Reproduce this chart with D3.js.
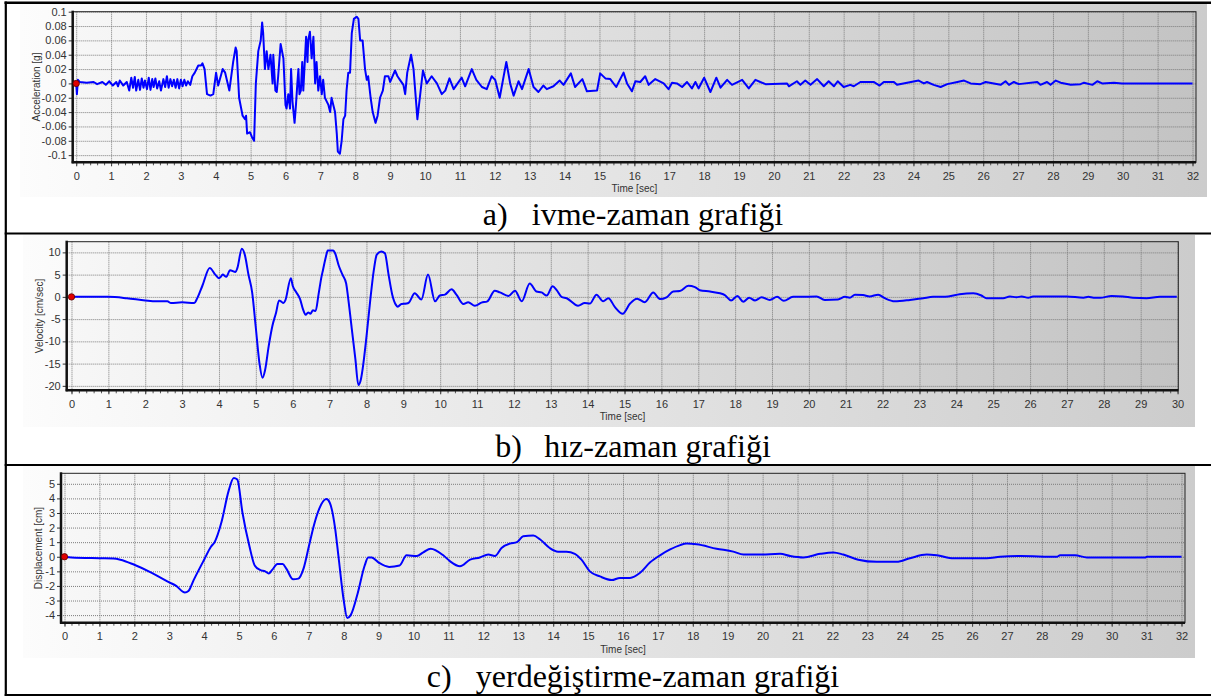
<!DOCTYPE html>
<html><head><meta charset="utf-8">
<script src="https://cdn.jsdelivr.net/npm/d3@7/dist/d3.min.js"></script>
<style>body{margin:0;background:#fff;} svg{display:block;}</style>
</head><body>
<svg id="c" width="1211" height="696"></svg>
<script>
// ---------------- DATA ----------------
const accTime = [0,0.02,0.05,0.1,0.3,0.5,0.6,0.75,0.85,0.95,1.05,1.15,1.2,1.25,1.35,1.45,1.52,1.58,1.63,1.68,1.72,1.78,1.83,1.88,1.93,1.97,2.03,2.08,2.13,2.18,2.22,2.27,2.32,2.38,2.43,2.5,2.55,2.6,2.65,2.7,2.75,2.8,2.85,2.9,2.95,3.0,3.05,3.1,3.15,3.2,3.27,3.33,3.4,3.5,3.58,3.62,3.68,3.75,3.85,3.93,
 4.01,4.07,4.2,4.27,4.39,4.5,4.57,4.6,4.67,4.77,4.84,4.87,4.9,4.98,5.04,5.1,5.15,5.22,5.29,5.33,5.36,5.41,5.46,5.51,5.57,5.63,5.65,5.71,5.75,5.79,5.86,5.94,6.0,6.03,6.08,6.13,6.16,6.2,6.26,6.3,6.34,6.37,6.4,6.44,6.48,6.51,6.59,6.63,6.65,6.7,6.75,6.8,6.85,6.89,6.94,6.99,7.04,7.08,7.13,7.18,7.23,7.28,7.32,7.37,7.42,7.47,7.5,7.56,7.61,7.66,7.71,7.75,7.8,7.85,7.9,7.96,8.04,8.09,8.14,8.21,8.28,8.33,8.37,8.44,8.5,8.58,8.64,8.71,8.79,8.85,8.95,9.0,9.14,9.21,9.28,9.38,9.43,9.49,9.6,9.67,9.75,9.78,
 9.94,10.05,10.19,10.34,10.48,10.58,10.7,10.82,11.05,11.15,11.34,11.47,11.63,11.77,11.91,12.01,12.14,12.33,12.44,12.54,12.68,12.78,12.97,13.11,13.25,13.39,13.49,13.68,13.86,13.97,14.18,14.3,14.51,14.64,14.93,15.02,15.17,15.31,15.48,15.69,15.79,15.93,16.03,16.17,16.31,16.41,16.6,16.84,16.98,17.08,17.22,17.37,17.51,17.65,17.75,17.84,18.0,18.18,18.35,18.47,18.66,18.8,19.09,19.28,19.47,19.61,19.76,20.38,20.43,20.66,20.76,20.9,21.05,21.24,
 21.43,21.57,21.72,21.83,22.0,22.19,22.29,22.48,22.86,23.03,23.15,23.44,23.53,23.82,24.15,24.3,24.39,24.58,24.78,24.97,25.26,25.45,25.64,25.92,26.07,26.5,26.64,26.74,26.88,27.02,27.55,27.64,27.83,27.93,28.08,28.22,28.51,28.79,28.89,29.13,29.27,29.41,29.75,29.98,32.0];
const accValue = [0,-0.015,0.005,0.002,0.001,0.002,-0.001,0.002,-0.002,0.003,-0.003,0.002,-0.004,0.004,-0.003,0.002,-0.01,0.008,-0.006,0.009,-0.01,0.005,-0.009,0.007,-0.006,0.004,-0.008,0.008,-0.009,0.006,-0.005,0.007,-0.007,0.003,-0.01,0.006,-0.005,0.01,-0.006,0.006,-0.004,0.005,-0.006,0.006,-0.007,0.005,-0.004,0.005,-0.003,0.003,-0.002,0.01,0.015,0.025,0.025,0.028,0.02,-0.015,-0.017,-0.015,
 0.015,-0.003,0.02,0.015,-0.01,0.03,0.05,0.045,-0.02,-0.045,-0.05,-0.045,-0.07,-0.068,-0.075,-0.08,0.0,0.045,0.06,0.085,0.07,0.02,0.045,0.02,0.04,0.0,0.04,-0.01,-0.012,0.01,0.055,0.035,-0.03,-0.035,-0.015,-0.035,0.02,-0.025,-0.055,-0.03,0.0,0.02,-0.015,-0.01,0.03,-0.01,0.065,0.03,0.06,0.072,0.035,0.065,0.0,0.03,-0.01,0.01,-0.015,0.005,-0.02,-0.025,-0.03,-0.04,-0.02,-0.03,-0.04,-0.07,-0.095,-0.098,-0.08,-0.05,-0.045,-0.01,0.015,0.015,0.07,0.09,0.093,0.09,0.06,0.06,0.02,0.005,0.01,-0.02,-0.04,-0.055,-0.045,-0.02,-0.01,0.01,0.01,0.002,0.018,0.01,0.005,-0.002,-0.015,0.015,0.04,0.02,-0.03,-0.05,
 0.018,0.0,0.01,0.0,-0.015,-0.01,0.007,-0.008,0.008,-0.004,0.02,0.005,-0.005,-0.008,0.01,0.005,-0.02,0.03,0.0,-0.017,0.003,-0.008,0.02,-0.005,-0.012,-0.003,-0.008,-0.004,0.004,-0.002,0.014,-0.005,0.006,-0.011,-0.01,0.014,0.007,0.006,-0.005,0.015,0.0,-0.011,0.003,0.002,0.01,-0.002,0.006,0.0,-0.008,0.001,0.0,-0.005,0.002,-0.007,0.002,-0.007,0.008,-0.012,0.008,-0.006,0.005,-0.002,0.005,-0.007,0.005,0.002,-0.001,0.0,-0.004,0.003,-0.002,0.004,-0.002,0.006,
 -0.004,0.003,-0.004,0.003,-0.005,-0.002,-0.004,0.002,0.002,-0.003,0.002,0.002,-0.002,0.001,0.004,0.0,0.002,-0.002,-0.005,-0.001,0.002,0.004,0.0,-0.001,0.002,-0.002,0.003,-0.002,0.002,-0.001,0.002,-0.002,0.002,-0.002,0.004,0.001,-0.002,-0.001,0.001,-0.002,0.003,0.0,0.001,0.0,0.0];

const velTime = [0,0.5,1.0,1.5,2.0,2.3,2.6,2.7,3.0,3.33,3.4,3.55,3.75,3.9,4.0,4.05,4.1,4.2,4.3,4.45,4.5,4.62,4.7,4.8,4.9,5.0,5.1,5.18,5.25,5.35,5.45,5.55,5.63,5.68,5.75,5.8,5.95,6.0,6.1,6.2,6.28,6.35,6.42,6.48,6.55,6.62,6.7,6.78,6.82,6.9,6.95,7.1,7.15,7.25,7.35,7.45,7.5,7.6,7.7,7.78,7.85,7.9,8.0,8.1,8.2,8.28,8.4,8.5,8.6,8.7,8.8,8.85,8.95,9.09,9.15,9.31,9.49,9.67,9.86,9.99,10.13,10.31,10.44,10.63,10.76,10.94,11.12,11.28,11.48,11.62,11.85,12.03,12.21,12.43,12.61,12.75,12.89,13.05,13.16,13.29,13.43,13.74,13.92,14.06,14.24,14.42,14.56,14.74,14.95,15.15,15.34,15.55,15.78,15.96,16.14,16.32,16.5,16.73,16.91,17.04,17.32,17.59,17.72,17.89,18.06,18.22,18.38,18.54,18.72,18.94,19.14,19.32,19.57,19.76,20.21,20.43,20.79,20.98,21.11,21.25,21.47,21.65,21.88,22.06,22.33,22.74,23.1,23.37,23.78,24.09,24.46,24.68,24.82,25.27,25.45,25.63,25.77,25.95,26.08,26.49,26.99,27.45,27.58,27.72,27.9,28.21,28.52,28.79,29.16,29.52,29.98];
const velValue = [0,0,0,-0.3,-0.8,-1.0,-1.0,-1.4,-1.2,-1.4,-0.5,2.5,6.5,5.0,4.2,4.5,5.0,4.5,6.0,5.6,6.5,10.8,9.5,5.0,1.0,-7,-15,-18.2,-16.5,-11,-6.5,-3.5,-0.8,-1.0,-1.4,-0.8,4.2,2.5,1.0,-0.5,-2.8,-4.0,-3.5,-3.8,-3.0,-3.2,0.5,4.5,6.0,9.0,10.4,10.4,9.8,7.0,5.0,3.0,0.0,-7,-14,-19.8,-18.5,-16,-9,-1,6,9.5,10.2,9.8,5.0,0.5,-1.8,-2.2,-1.6,-1.5,-1.3,0.8,-0.6,5.0,-1.0,0.3,0.5,1.7,0.5,-1.6,-1.2,-2.0,-1.3,-1.0,1.4,1.0,0.2,1.4,-1.0,3.0,1.2,1.0,0.3,2.4,1.5,0.0,-0.3,-2.0,-1.4,-1.5,0.5,-1.0,-0.3,-2.3,-3.8,-1.5,-0.4,-1.2,1.0,-0.5,-0.1,1.2,1.3,2.5,2.2,1.5,1.2,0.8,0.4,-0.8,0.2,-1.1,-0.2,-0.8,-0.1,-0.7,0.0,-0.9,0.0,0.0,0.1,-0.7,-0.6,0.0,-0.2,0.5,0.4,0.1,0.5,-0.3,-1.0,-0.7,-0.3,0.0,0.1,0.6,0.8,0.3,-0.3,-0.3,0.1,-0.1,0.1,-0.2,0.1,0.1,0.1,-0.2,0.0,-0.2,-0.2,0.2,0.1,-0.2,-0.3,0.0,0.0];

const dispTime = [0,0.2,1.0,1.4,1.6,2.0,2.5,3.0,3.2,3.45,3.55,3.7,4.0,4.2,4.3,4.5,4.7,4.85,4.95,5.1,5.3,5.45,5.6,5.75,5.85,5.95,6.1,6.25,6.35,6.55,6.7,6.85,7.0,7.15,7.3,7.5,7.6,7.75,7.85,8.0,8.1,8.2,8.4,8.6,8.7,8.8,9.0,9.3,9.6,9.8,10.09,10.28,10.49,10.85,11.04,11.33,11.62,11.9,12.14,12.33,12.52,12.76,12.96,13.14,13.43,13.62,13.9,14.14,14.38,14.62,14.81,15.05,15.34,15.68,15.91,16.2,16.49,16.77,17.06,17.35,17.64,17.83,18.11,18.68,19.16,19.45,19.92,20.5,20.79,21.17,21.65,22.03,22.31,22.74,23.27,23.84,24.22,24.7,24.99,25.47,26.42,26.8,27.38,28.43,28.52,28.95,29.29,30.96,31.01,32.0];
const dispValue = [0,-0.05,-0.1,-0.12,-0.2,-0.55,-1.1,-1.75,-2.0,-2.45,-2.35,-1.6,-0.2,0.7,1.0,2.4,4.5,5.4,5.3,3.0,0.7,-0.6,-0.9,-1.0,-1.15,-0.9,-0.5,-0.5,-0.8,-1.55,-1.5,-0.8,0.7,2.2,3.3,3.95,3.7,2.0,0.0,-3.0,-4.2,-4.0,-2.5,-0.6,-0.05,-0.05,-0.4,-0.7,-0.6,0.1,0.05,0.3,0.55,0.1,-0.3,-0.65,-0.2,-0.05,0.15,0.05,0.6,0.9,1.0,1.4,1.45,1.2,0.6,0.35,0.35,0.2,-0.2,-1.0,-1.35,-1.6,-1.45,-1.45,-1.1,-0.4,0.1,0.5,0.8,0.9,0.85,0.55,0.35,0.15,0.15,0.2,0.05,-0.05,0.2,0.3,0.15,-0.2,-0.35,-0.35,-0.1,0.15,0.1,-0.1,-0.1,0.0,0.05,0.0,0.1,0.1,-0.05,-0.05,0.0,0.0];

const accTicks = [0.1,0.08,0.06,0.04,0.02,0,-0.02,-0.04,-0.06,-0.08,-0.1];
const accTickLabels = ["0.1","0.08","0.06","0.04","0.02","0","-0.02","-0.04","-0.06","-0.08","-0.1"];
const velTicks = [10,5,0,-5,-10,-15,-20];
const velTickLabels = ["10","5","0","-5","-10","-15","-20"];
const dispTicks = [5,4,3,2,1,0,-1,-2,-3,-4];
const dispTickLabels = ["5","4","3","2","1","0","-1","-2","-3","-4"];
const timeTicks32 = [0,1,2,3,4,5,6,7,8,9,10,11,12,13,14,15,16,17,18,19,20,21,22,23,24,25,26,27,28,29,30,31,32];
const timeTicks30 = [0,1,2,3,4,5,6,7,8,9,10,11,12,13,14,15,16,17,18,19,20,21,22,23,24,25,26,27,28,29,30];

const captionLabels = ["a)","b)","c)"];
const captionTexts = ["ivme-zaman grafiği","hız-zaman grafiği","yerdeğiştirme-zaman grafiği"];
const yTitles = ["Acceleration [g]","Velocity [cm/sec]","Displacement [cm]"];
const xTitle = "Time [sec]";

// ---------------- LAYOUT ----------------
const panels = [
  {time:accTime, val:accValue, yTicks:accTicks, yLabels:accTickLabels, xTicks:timeTicks32,
   xDom:[-0.1,32.1], yDom:[-0.11,0.1], l:72.7, r:1196, t:11.7, b:162.3,
   bg:[20,4,1207,197], yTitleX:36, curve:d3.curveLinear, capY:225, rowTop:2.8, rowBot:233.5},
  {time:velTime, val:velValue, yTicks:velTicks, yLabels:velTickLabels, xTicks:timeTicks30,
   xDom:[-0.13,30.02], yDom:[-21,12.4], l:66.7, r:1178.3, t:241.7, b:390.3,
   bg:[23,235,1195,427], yTitleX:39, curve:d3.curveMonotoneX, capY:457, rowTop:233.5, rowBot:465},
  {time:dispTime, val:dispValue, yTicks:dispTicks, yLabels:dispTickLabels, xTicks:timeTicks32,
   xDom:[-0.1,32.1], yDom:[-4.52,5.72], l:61, r:1185, t:473.3, b:622.7,
   bg:[23,466,1195,658], yTitleX:38, curve:d3.curveMonotoneX, capY:687, rowTop:465, rowBot:695}
];

const svg = d3.select('#c');
const defs = svg.append('defs');
function grad(id,c1,c2){
  const g = defs.append('linearGradient').attr('id',id).attr('x1','0').attr('x2','1').attr('y1','0').attr('y2','0');
  g.append('stop').attr('offset','0').attr('stop-color',c1);
  g.append('stop').attr('offset','1').attr('stop-color',c2);
}
grad('bgOuter','#fcfcfc','#cccccc');
grad('bgPlot','#f7f7f7','#c3c3c3');

const sansFont = "'Liberation Sans', Arial, sans-serif";
const serifFont = "'Liberation Serif', 'Times New Roman', serif";

panels.forEach((p,i)=>{
  const x = d3.scaleLinear().domain(p.xDom).range([p.l,p.r]);
  const y = d3.scaleLinear().domain(p.yDom).range([p.b,p.t]);
  const g = svg.append('g');
  g.append('rect').attr('x',p.bg[0]).attr('y',p.bg[1]).attr('width',p.bg[2]-p.bg[0]).attr('height',p.bg[3]-p.bg[1]).attr('fill','url(#bgOuter)');
  g.append('rect').attr('x',p.l).attr('y',p.t).attr('width',p.r-p.l).attr('height',p.b-p.t).attr('fill','url(#bgPlot)');
  // grid
  g.append('g').selectAll('line').data(p.xTicks).join('line')
    .attr('x1',d=>x(d)+0.5).attr('x2',d=>x(d)+0.5).attr('y1',p.t).attr('y2',p.b)
    .attr('stroke','#7c7c7c').attr('stroke-dasharray','1,1').attr('stroke-width',1);
  g.append('g').selectAll('line').data(p.yTicks).join('line')
    .attr('y1',d=>y(d)+0.5).attr('y2',d=>y(d)+0.5).attr('x1',p.l).attr('x2',p.r)
    .attr('stroke','#7c7c7c').attr('stroke-dasharray','1,1').attr('stroke-width',1);
  // series
  const cid = 'clip'+i;
  defs.append('clipPath').attr('id',cid).append('rect').attr('x',p.l).attr('y',p.t-1).attr('width',p.r-p.l).attr('height',p.b-p.t+2);
  const pts = p.time.map((t,k)=>[t,p.val[k]]);
  g.append('path').datum(pts).attr('clip-path',`url(#${cid})`)
    .attr('d', d3.line().x(d=>x(d[0])).y(d=>y(d[1])).curve(p.curve))
    .attr('fill','none').attr('stroke','#0000ff').attr('stroke-width',2).attr('stroke-linejoin','round');
  // plot border
  g.append('rect').attr('x',p.l).attr('y',p.t).attr('width',p.r-p.l).attr('height',p.b-p.t)
    .attr('fill','none').attr('stroke','#222').attr('stroke-width',1);
  // axes
  const ax = g.append('g').attr('transform',`translate(0,${p.b})`)
    .call(d3.axisBottom(x).tickValues(p.xTicks).tickSize(4).tickPadding(6).tickFormat(d3.format('d')));
  ax.select('.domain').remove();
  ax.selectAll('text').attr('font-family',sansFont).attr('font-size',11).attr('fill','#333');
  ax.selectAll('line').attr('stroke','#333');
  const minor = g.append('g').attr('transform',`translate(0,${p.b})`)
    .call(d3.axisBottom(x).tickValues(d3.range(0,p.xTicks[p.xTicks.length-1]+0.01,0.2)).tickSize(3).tickFormat(''));
  minor.select('.domain').remove();
  minor.selectAll('line').attr('stroke','#555');
  const ay = g.append('g').attr('transform',`translate(${p.l},0)`)
    .call(d3.axisLeft(y).tickValues(p.yTicks).tickSize(4).tickPadding(2).tickFormat((d,k)=>p.yLabels[k]));
  ay.select('.domain').remove();
  ay.selectAll('text').attr('font-family',sansFont).attr('font-size',11).attr('fill','#333');
  ay.selectAll('line').attr('stroke','#333');
  // thick axis lines
  g.append('line').attr('x1',p.l).attr('x2',p.l).attr('y1',p.t-1).attr('y2',p.b+1).attr('stroke','#111').attr('stroke-width',2.5);
  g.append('line').attr('x1',p.l-1).attr('x2',p.r).attr('y1',p.b).attr('y2',p.b).attr('stroke','#111').attr('stroke-width',2.5);
  // titles
  g.append('text').attr('transform',`translate(${p.yTitleX},${(p.t+p.b)/2}) rotate(-90)`)
    .attr('text-anchor','middle').attr('dy','0.35em').attr('font-family',sansFont).attr('font-size',10).attr('fill','#333').text(yTitles[i]);
  g.append('text').attr('x',(p.l+p.r)/2).attr('y',p.b+30).attr('text-anchor','middle')
    .attr('font-family',sansFont).attr('font-size',10).attr('fill','#333').text(xTitle);
  // origin marker
  g.append('circle').attr('cx',x(p.time[0])).attr('cy',y(p.val[0])).attr('r',3.2)
    .attr('fill','#e00000').attr('stroke','#5a0000').attr('stroke-width',0.8);
  // caption
  const cap = svg.append('g');
  const lab = cap.append('text').attr('y',p.capY).attr('font-family',serifFont).attr('font-size',32).attr('fill','#000').text(captionLabels[i]);
  const txt = cap.append('text').attr('y',p.capY).attr('font-family',serifFont).attr('font-size',32).attr('fill','#000').text(captionTexts[i]);
  const w = 49 + txt.node().getComputedTextLength();
  const x0 = 633 - w/2;
  lab.attr('x',x0); txt.attr('x',x0+49);
});

// table borders
const border = svg.append('g').attr('stroke','#000');
border.append('line').attr('x1',4.5).attr('x2',1211).attr('y1',2.8).attr('y2',2.8).attr('stroke-width',2.5);
border.append('line').attr('x1',5.8).attr('x2',5.8).attr('y1',1.6).attr('y2',696).attr('stroke-width',2.2);
border.append('line').attr('x1',4.7).attr('x2',1211).attr('y1',233.5).attr('y2',233.5).attr('stroke-width',2);
border.append('line').attr('x1',4.7).attr('x2',1211).attr('y1',465).attr('y2',465).attr('stroke-width',2);
border.append('line').attr('x1',4.7).attr('x2',1211).attr('y1',695).attr('y2',695).attr('stroke-width',2);
</script>
</body></html>
